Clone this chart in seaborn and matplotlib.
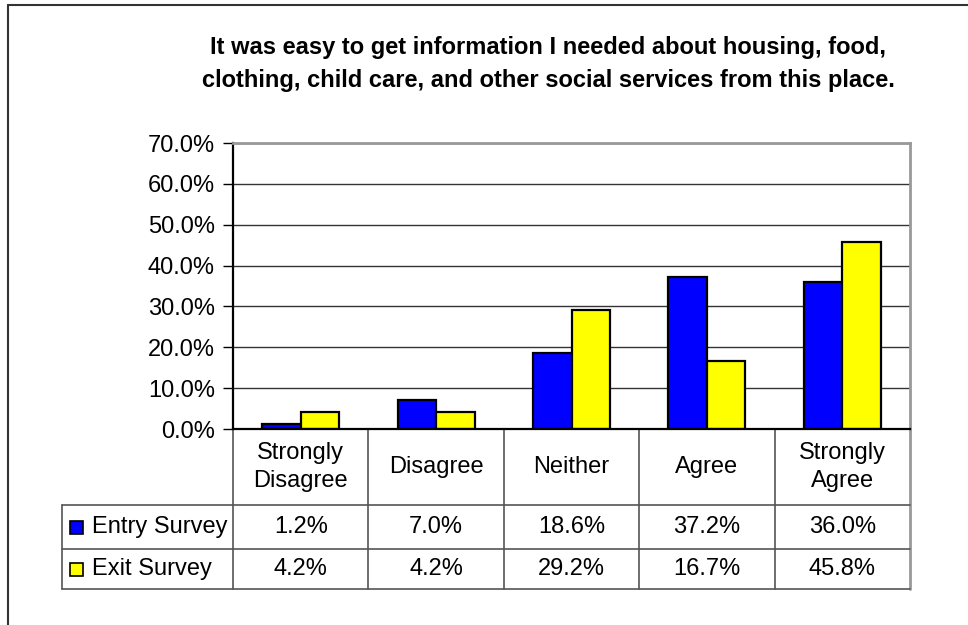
import matplotlib
matplotlib.use("Agg")
import matplotlib.pyplot as plt
from matplotlib.lines import Line2D
from matplotlib.patches import Rectangle
from matplotlib.ticker import FuncFormatter
import seaborn as sns
import pandas as pd

# Survey responses
categories = ["Strongly\nDisagree", "Disagree", "Neither", "Agree", "Strongly\nAgree"]
series_names = ["Entry Survey", "Exit Survey"]
entry_values = [1.2, 7.0, 18.6, 37.2, 36.0]
exit_values = [4.2, 4.2, 29.2, 16.7, 45.8]
y_ticks = [0, 10, 20, 30, 40, 50, 60, 70]
colors = ["#0000FF", "#FFFF00"]
title = ("It was easy to get information I needed about housing, food,\n"
         "clothing, child care, and other social services from this place.")

df = pd.DataFrame({
    "category": categories * 2,
    "survey": [series_names[0]] * len(categories) + [series_names[1]] * len(categories),
    "value": entry_values + exit_values,
})

sns.set_theme(style="white")
plt.rcParams["font.family"] = ["Liberation Sans", "DejaVu Sans"]
plt.rcParams["text.color"] = "black"

W, H = 968, 625
FS = 17
fig = plt.figure(figsize=(W / 100, H / 100), dpi=100)
fig.patch.set_facecolor("white")

# plot area in pixel units
left, right, top, bottom = 233, 910, 143, 429
ax = fig.add_axes([left / W, 1 - bottom / H, (right - left) / W, (bottom - top) / H])

sns.barplot(data=df, x="category", y="value", hue="survey", order=categories,
            hue_order=series_names, palette=colors, width=0.57,
            edgecolor="black", linewidth=1.6, saturation=1, ax=ax, legend=False)

ax.set_xlim(-0.5, len(categories) - 0.5)
ax.set_ylim(0, 70)
ax.set_yticks(y_ticks)
ax.yaxis.set_major_formatter(FuncFormatter(lambda v, p: f"{v:.1f}%"))
ax.set_xticks([])
ax.set_xlabel("")
ax.set_ylabel("")
ax.tick_params(axis="y", which="major", direction="out", length=7, width=1,
               color="black", labelsize=FS, labelcolor="black", pad=6, left=True)
ax.set_axisbelow(True)
ax.yaxis.grid(True, color="#333333", linewidth=1)

for side in ("left", "bottom"):
    ax.spines[side].set_color("black")
    ax.spines[side].set_linewidth(1.6)
for side in ("top", "right"):
    ax.spines[side].set_color("#999999")
    ax.spines[side].set_linewidth(2)
    ax.spines[side].set_visible(True)

# data table below the axis
plot_h = bottom - top
row_edges_px = [429, 505, 549, 589]
row_y = [-(r - bottom) / plot_h for r in row_edges_px]
legend_left = (62 - left) / (right - left)

xt = ax.get_xaxis_transform()
line_kw = dict(color="#555555", linewidth=1.2, clip_on=False)

# vertical cell boundaries
for i in range(len(categories) + 1):
    xb = i - 0.5
    col = "#999999" if i == len(categories) else "#555555"
    lw = 2 if i == len(categories) else 1.2
    ax.add_line(Line2D([xb, xb], [row_y[0], row_y[3]], transform=xt,
                       color=col, linewidth=lw, clip_on=False))

# horizontal row boundaries
for r in row_y[1:]:
    ax.add_line(Line2D([legend_left, 1], [r, r], transform=ax.transAxes, **line_kw))
ax.add_line(Line2D([legend_left, legend_left], [row_y[1], row_y[3]],
                   transform=ax.transAxes, **line_kw))

text_kw = dict(fontsize=FS, color="black", ha="center", va="center",
               clip_on=False)
for i, cat in enumerate(categories):
    ax.text(i, (row_y[0] + row_y[1]) / 2, cat, transform=xt, linespacing=1.35,
            **text_kw)
    ax.text(i, (row_y[1] + row_y[2]) / 2, f"{entry_values[i]:.1f}%", transform=xt,
            **text_kw)
    ax.text(i, (row_y[2] + row_y[3]) / 2, f"{exit_values[i]:.1f}%", transform=xt,
            **text_kw)

# series keys in the table's first column
key_x = (70 - left) / (right - left)
key_w = 13 / (right - left)
key_h = 13 / plot_h
label_x = (92 - left) / (right - left)
for j, (name, c) in enumerate(zip(series_names, colors)):
    yc = (row_y[j + 1] + row_y[j + 2]) / 2
    ax.add_patch(Rectangle((key_x, yc - key_h / 2), key_w, key_h, transform=ax.transAxes,
                           facecolor=c, edgecolor="black", linewidth=1.2, clip_on=False))
    ax.text(label_x, yc, name, transform=ax.transAxes, fontsize=FS, color="black",
            ha="left", va="center", clip_on=False)

# title
fig.text(548 / W, 1 - 64 / H, title, ha="center", va="center", fontsize=17,
         fontweight="bold", color="black", linespacing=1.55)

# outer chart frame
fig.add_artist(Line2D([8 / W, 1], [1 - 5 / H, 1 - 5 / H], transform=fig.transFigure,
                      color="#333333", linewidth=1.5))
fig.add_artist(Line2D([8 / W, 8 / W], [0, 1 - 5 / H], transform=fig.transFigure,
                      color="#333333", linewidth=1.5))

fig.savefig("out.png", dpi=100, facecolor="white")
